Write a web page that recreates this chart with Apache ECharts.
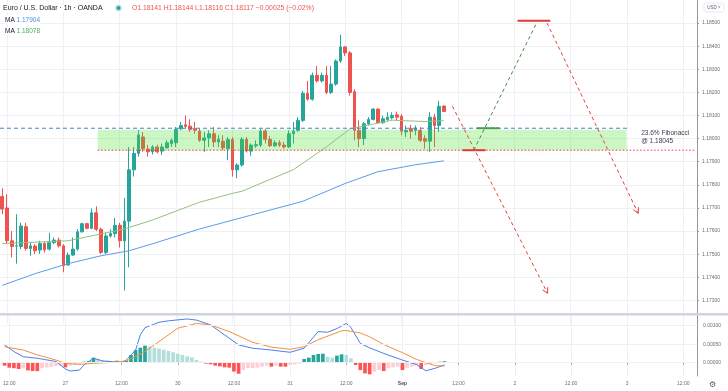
<!DOCTYPE html>
<html><head><meta charset="utf-8">
<script src="https://cdn.jsdelivr.net/npm/echarts@6/dist/echarts.min.js"></script>
<style>html,body{margin:0;padding:0;background:#fff}#c{width:728px;height:391px}</style>
</head><body><div id="c"></div>
<script>
// ---------- data ----------
const days = ['26','27','30','31','Sep','2','3','4'];
const firstHour = 11;      // first slot = 26 Aug 11:00
const slotCount = 148;

const opens  = [1.17750,1.17700,1.17558,1.17535,1.17533,1.17619,1.17525,1.17535,1.17518,1.17546,1.17522,1.17550,1.17561,1.17536,1.17453,1.17496,1.17522,1.17597,1.17632,1.17612,1.17679,1.17608,1.17507,1.17579,1.17589,1.17625,1.17558,1.17643,1.17865,1.17936,1.18007,1.17955,1.17943,1.17964,1.17946,1.17960,1.17979,1.17982,1.18043,1.18060,1.18054,1.18043,1.18033,1.17993,1.18003,1.18021,1.17986,1.17989,1.17957,1.17996,1.17865,1.17886,1.17997,1.17946,1.17969,1.17972,1.18033,1.17997,1.17969,1.17982,1.17972,1.17964,1.18021,1.18036,1.18079,1.18196,1.18171,1.18274,1.18250,1.18274,1.18200,1.18236,1.18336,1.18397,1.18371,1.18203,1.18036,1.18000,1.18064,1.18083,1.18128,1.18069,1.18083,1.18090,1.18103,1.18097,1.18029,1.18043,1.18036,1.18036,1.18000,1.17989,1.18093,1.18057,1.18141];
const closes = [1.17695,1.17558,1.17533,1.17536,1.17622,1.17525,1.17536,1.17515,1.17546,1.17519,1.17550,1.17561,1.17536,1.17450,1.17496,1.17522,1.17597,1.17632,1.17612,1.17679,1.17608,1.17507,1.17579,1.17589,1.17625,1.17558,1.17643,1.17865,1.17936,1.18016,1.17957,1.17943,1.17964,1.17943,1.17964,1.17982,1.17993,1.18040,1.18057,1.18053,1.18040,1.18036,1.17993,1.18003,1.18021,1.17986,1.17997,1.17960,1.17996,1.17865,1.17886,1.17997,1.17947,1.17972,1.17974,1.18033,1.17997,1.17969,1.17982,1.17972,1.17964,1.18021,1.18033,1.18079,1.18196,1.18171,1.18274,1.18250,1.18274,1.18200,1.18236,1.18336,1.18397,1.18371,1.18200,1.18036,1.18000,1.18064,1.18083,1.18128,1.18069,1.18086,1.18093,1.18100,1.18093,1.18032,1.18036,1.18032,1.18046,1.17993,1.17989,1.18093,1.18057,1.18140,1.18117];
const highs  = [1.17785,1.17759,1.17600,1.17673,1.17636,1.17636,1.17550,1.17543,1.17558,1.17555,1.17593,1.17572,1.17572,1.17543,1.17507,1.17572,1.17608,1.17636,1.17636,1.17698,1.17707,1.17615,1.17593,1.17608,1.17657,1.17636,1.17743,1.17964,1.17964,1.18037,1.18029,1.17973,1.17972,1.17974,1.17979,1.17993,1.18000,1.18050,1.18072,1.18100,1.18083,1.18072,1.18043,1.18029,1.18036,1.18050,1.18015,1.18015,1.18007,1.18007,1.17893,1.18007,1.18007,1.17979,1.17993,1.18043,1.18043,1.18012,1.17993,1.17993,1.17986,1.18036,1.18072,1.18093,1.18207,1.18250,1.18286,1.18314,1.18286,1.18314,1.18314,1.18343,1.18450,1.18400,1.18379,1.18214,1.18079,1.18072,1.18093,1.18131,1.18131,1.18100,1.18114,1.18114,1.18117,1.18107,1.18057,1.18060,1.18057,1.18050,1.18015,1.18114,1.18107,1.18164,1.18144];
const lows   = [1.17673,1.17545,1.17486,1.17459,1.17522,1.17515,1.17493,1.17501,1.17501,1.17507,1.17515,1.17543,1.17529,1.17422,1.17450,1.17493,1.17515,1.17593,1.17608,1.17608,1.17600,1.17501,1.17501,1.17572,1.17572,1.17529,1.17343,1.17443,1.17836,1.17922,1.17943,1.17922,1.17931,1.17936,1.17929,1.17957,1.17964,1.17964,1.18036,1.18043,1.18029,1.18021,1.17986,1.17943,1.17964,1.17964,1.17964,1.17950,1.17907,1.17836,1.17829,1.17879,1.17940,1.17926,1.17960,1.17964,1.17979,1.17964,1.17964,1.17964,1.17957,1.17960,1.17979,1.18029,1.18072,1.18164,1.18164,1.18243,1.18243,1.18193,1.18193,1.18229,1.18328,1.18357,1.18186,1.17993,1.17964,1.17972,1.18057,1.18079,1.18064,1.18064,1.18075,1.18083,1.18079,1.18015,1.18007,1.18000,1.18015,1.17986,1.17957,1.17943,1.17964,1.18029,1.18116];

// moving averages read at sample bars: [bar index, price]
const maSlow = [[0,1.17365],[7,1.17416],[14,1.17459],[21,1.17493],[27,1.17515],[32,1.17545],[42,1.17609],[53,1.17669],[64,1.17729],[73,1.17806],[80,1.17857],[88,1.17887],[94,1.17904]];
const maFast = [[0,1.17546],[14,1.17558],[26,1.17609],[32,1.17648],[42,1.17725],[49,1.17763],[51,1.17772],[62,1.17866],[69,1.17964],[74,1.18042],[78,1.18059],[83,1.18080],[90,1.18074],[94,1.18078]];

// MACD pane, in units of 0.00001
const macdHist = [-8,-13.5,-15,-17,-15,-21,-22.5,-23,-15,-12.6,-10.8,-9,-8,-12.6,-8,-6.3,-3.6,2.7,4.5,13.5,10,6.3,5.4,4.5,5.4,2.7,5.4,20.7,34,40.5,46,44,40.5,38,35,31.5,28,24.3,20.7,17,14.4,7.2,2.7,-2.7,-4.5,-8,-10,-12.6,-13.5,-24,-30,-20,-15,-14.5,-13.5,-10.8,-8,-10.8,-8,-10.8,-10.8,-6.3,-4.5,-2.7,10,13.5,20.7,23.4,24.3,16,13.5,19,22.5,20.7,11.7,-6.3,-20,-29,-31.5,-24,-20,-22.5,-15,-12.6,-10.8,-20,-13.5,-10.8,-8,-17,-6.3,-3.6,-1.8,2.7,4];
const macdLine = [[0,48],[2,30],[4,16],[7,12],[11,3],[13,-17],[14,-22.5],[16,-20],[17,-6],[19,12],[21,4.5],[23,2.7],[25,1],[26,7],[28,34],[29,75],[30,94.5],[33,109],[35,113],[39,118],[41,115],[44,102],[47,75],[50,48],[53,39],[57,34],[61,28],[64,39],[67,84],[69,82],[71,92],[73,106],[74,95],[76,52],[78,40],[81,25],[85,7],[88,-5],[90,-22],[92,-15],[94,-6]];
const signalLine = [[0,43],[4,34],[7,21],[11,7],[13,-2],[16,-4.5],[19,-2],[23,1],[26,4.5],[30,30],[33,57],[37,93],[41,106],[44,102],[48,84],[53,55],[57,42],[61,36],[64,43],[67,62],[72,86],[73,87],[76,80],[78,70],[81,49],[85,27],[88,9],[90,0],[92,-8],[94,-9]];
const macdTicks = [0, 50, 100];

// levels and drawings (bar index, price)
const fibLevel = 1.18045, supportLevel = 1.17950, targetLevel = 1.18500, lastPrice = 1.18117;
const zone = [[20.3, 132.9, 1.17950, 1.18038]];
const fibLine = [[-0.5, 1.18045, 133.7, 1.18045]];
const supportLine = [[20.3, 1.17950, 147.5, 1.17950]];
const redPaths = [[95.85, 1.18140, 116.1, 1.17331], [116.0, 1.18500, 135.4, 1.17677]];
const greenPaths = [[100.4, 1.17950, 113.75, 1.18500]];
const redBars = [[98.0, 1.17950, 102.9, 1.17950], [109.7, 1.18510, 116.7, 1.18510]];
const greenBars = [[101.0, 1.18045, 105.9, 1.18045]];

// ---------- build ----------
const categories = [];
for (let k = 0; k < slotCount; k++) {
  const h = firstHour + k;
  categories.push(days[Math.floor(h / 24)] + ' ' + String(h % 24).padStart(2, '0') + ':00');
}
const candles = opens.map((o, i) => [o, closes[i], lows[i], highs[i]]);
const labelSlot = (i) => (firstHour + i) % 12 === 0;
const fmtCat = (v) => { const p = v.split(' '); if (p[1] === '00:00') return p[0] === 'Sep' ? '{b|Sep}' : p[0]; return p[1]; };

function kx(api, k, p) {
  const k0 = Math.floor(k);
  const a = api.coord([k0, p]);
  const b = api.coord([k0 + 1, p]);
  return [a[0] + (k - k0) * (b[0] - a[0]), a[1]];
}
function segSeries(data, color, dash, width, arrow, z) {
  return {
    type: 'custom', xAxisIndex: 0, yAxisIndex: 0, z: z, silent: true, data: data,
    renderItem: (params, api) => {
      const a = kx(api, api.value(0), api.value(1));
      const b = kx(api, api.value(2), api.value(3));
      const ch = [{ type: 'line', shape: { x1: a[0], y1: a[1], x2: b[0], y2: b[1] }, style: { stroke: color, lineWidth: width, lineDash: dash } }];
      if (arrow) {
        const ang = Math.atan2(b[1] - a[1], b[0] - a[0]);
        [-1, 1].forEach(s => {
          const t = ang + Math.PI + s * 0.5;
          ch.push({ type: 'line', shape: { x1: b[0], y1: b[1], x2: b[0] + 6 * Math.cos(t), y2: b[1] + 6 * Math.sin(t) }, style: { stroke: color, lineWidth: 1 } });
        });
      }
      return { type: 'group', children: ch };
    }
  };
}

const FONT = 'Liberation Sans';
const gridLine = { show: true, lineStyle: { color: '#eef0f4', width: 1 } };
const chart = echarts.init(document.getElementById('c'), null, { renderer: 'canvas' });
chart.setOption({
  animation: false,
  backgroundColor: '#ffffff',
  textStyle: { fontFamily: FONT },
  grid: [
    { left: -2, right: 33, top: -3.4, bottom: 67.5 },
    { left: -2, right: 33, top: 316, bottom: 15 }
  ],
  xAxis: [
    { type: 'category', gridIndex: 0, data: categories, boundaryGap: true,
      axisLine: { show: false }, axisTick: { show: false }, axisLabel: { show: false },
      splitLine: Object.assign({ interval: labelSlot, alignWithLabel: true }, gridLine) },
    { type: 'category', gridIndex: 1, data: categories, boundaryGap: true,
      axisLine: { show: true, lineStyle: { color: '#d5d7dc' } },
      axisTick: { show: true, interval: labelSlot, alignWithLabel: true, length: 2, lineStyle: { color: '#9598a1' } },
      axisLabel: { interval: labelSlot, formatter: fmtCat, fontSize: 5, color: '#6a6d78', margin: 5, fontFamily: FONT,
        rich: { b: { fontWeight: 'bold', fontSize: 5, color: '#4a4d58', fontFamily: FONT } } },
      splitLine: Object.assign({ interval: labelSlot, alignWithLabel: true }, gridLine) }
  ],
  yAxis: [
    { type: 'value', gridIndex: 0, position: 'right', offset: 2, min: 1.172, max: 1.186, interval: 0.001, scale: true,
      axisLine: { show: true, lineStyle: { color: '#9598a1' } },
      axisTick: { show: true, length: 2, lineStyle: { color: '#9598a1' } },
      axisLabel: { showMinLabel: false, showMaxLabel: false, formatter: v => v.toFixed(5), fontSize: 5, color: '#6a6d78', margin: 5, fontFamily: FONT },
      splitLine: { show: true, showMinLine: false, showMaxLine: false, lineStyle: { color: '#eef0f4' } } },
    { type: 'value', gridIndex: 1, position: 'right', offset: 2, min: -36, max: 126,
      axisLine: { show: true, lineStyle: { color: '#9598a1' } },
      axisTick: { show: false }, axisLabel: { show: false }, splitLine: { show: false } }
  ],
  series: [
    { type: 'candlestick', xAxisIndex: 0, yAxisIndex: 0, data: candles, barWidth: 3.2, z: 2, silent: true,
      itemStyle: { color: '#26a69a', color0: '#ef5350', borderColor: '#26a69a', borderColor0: '#ef5350', borderWidth: 1 },
      markLine: { symbol: 'none', silent: true, animation: false,
        label: { show: true, position: 'end', distance: 3, formatter: p => p.value.toFixed(5), color: '#fff', fontSize: 5, padding: [2, 3, 2, 3], fontFamily: FONT },
        data: [
          { yAxis: targetLevel, lineStyle: { color: '#72806a', type: [1, 2], width: 1 }, label: { backgroundColor: '#3f8f3c' } },
          { yAxis: lastPrice, lineStyle: { opacity: 0 }, label: { backgroundColor: '#ef5350' } },
          { yAxis: supportLevel, lineStyle: { opacity: 0 }, label: { backgroundColor: '#f23645' } }
        ] } },
    { type: 'custom', xAxisIndex: 0, yAxisIndex: 0, z: 3, silent: true, data: zone,
      renderItem: (params, api) => {
        const a = kx(api, api.value(0), api.value(3));
        const b = kx(api, api.value(1), api.value(2));
        return { type: 'rect', shape: { x: a[0], y: a[1], width: b[0] - a[0], height: b[1] - a[1] }, style: { fill: 'rgba(72,222,38,0.28)' } };
      } },
    { type: 'line', xAxisIndex: 0, yAxisIndex: 0, data: maSlow, showSymbol: false, z: 4, silent: true, lineStyle: { color: '#5e9be8', width: 1 } },
    { type: 'line', xAxisIndex: 0, yAxisIndex: 0, data: maFast, showSymbol: false, z: 4, silent: true, lineStyle: { color: '#93c27a', width: 1 } },
    segSeries(fibLine, '#4f7fd6', [4, 3], 1, false, 5),
    segSeries(supportLine, '#f23645', [1.5, 2], 1, false, 5),
    segSeries(redPaths, '#e8423f', [3.5, 3], 1, true, 6),
    segSeries(greenPaths, '#3f8f3c', [3.5, 3], 1, false, 6),
    segSeries(redBars, '#e53935', null, 2, false, 7),
    segSeries(greenBars, '#43a047', null, 2, false, 7),
    { type: 'custom', xAxisIndex: 0, yAxisIndex: 0, z: 7, silent: true, data: [[133.7, fibLevel]],
      renderItem: (params, api) => {
        const a = kx(api, api.value(0), api.value(1));
        return { type: 'text', x: a[0] + 11, y: a[1] + 1, style: { text: '23.6% Fibonacci\n@ ' + fibLevel.toFixed(5), fill: '#3b3e47', font: '6.5px "' + FONT + '"', lineHeight: 8, textVerticalAlign: 'top' } };
      } },
    { type: 'bar', xAxisIndex: 1, yAxisIndex: 1, data: macdHist, barWidth: '78%', silent: true, z: 2,
      itemStyle: { color: p => {
        const v = macdHist[p.dataIndex], pv = p.dataIndex > 0 ? macdHist[p.dataIndex - 1] : v;
        if (v >= 0) return pv < v ? '#26a69a' : '#b2dfdb';
        return pv < v ? '#ffcdd2' : '#ff5252';
      } },
      markLine: { symbol: 'none', silent: true, animation: false,
        lineStyle: { color: '#eef0f4', type: 'solid', width: 1 },
        label: { show: true, position: 'end', distance: 8, formatter: p => (p.value / 1e5).toFixed(5), color: '#6a6d78', fontSize: 5, fontFamily: FONT },
        data: macdTicks.map(v => ({ yAxis: v })) } },
    { type: 'line', xAxisIndex: 1, yAxisIndex: 1, data: macdLine, showSymbol: false, z: 3, silent: true, lineStyle: { color: '#4a7ff0', width: 1 } },
    { type: 'line', xAxisIndex: 1, yAxisIndex: 1, data: signalLine, showSymbol: false, z: 3, silent: true, lineStyle: { color: '#f3913f', width: 1 } }
  ],
  graphic: [
    { type: 'rect', z: 50, shape: { x: 0, y: 313, width: 728, height: 2.5 }, style: { fill: '#d1d4dc' } },
    { type: 'text', z: 60, x: 3, y: 8, style: { text: 'Euro / U.S. Dollar · 1h · OANDA', fill: '#131722', font: '7px "' + FONT + '"', textVerticalAlign: 'middle', backgroundColor: '#fff' } },
    { type: 'circle', z: 60, shape: { cx: 118.5, cy: 8, r: 3.6 }, style: { fill: 'rgba(38,166,154,0.22)' } },
    { type: 'circle', z: 61, shape: { cx: 118.5, cy: 8, r: 2 }, style: { fill: '#26a69a' } },
    { type: 'text', z: 60, x: 132, y: 8, style: { text: 'O1.18141 H1.18144 L1.18116 C1.18117 \u22120.00025 (\u22120.02%)', fill: '#ef5350', font: '6.8px "' + FONT + '"', textVerticalAlign: 'middle' } },
    { type: 'text', z: 60, x: 4, y: 20, style: { text: '{g|MA} {v|1.17904}', font: '6.5px "' + FONT + '"', textVerticalAlign: 'middle', backgroundColor: '#fff', padding: [1, 1],
      rich: { g: { fill: '#131722', font: '6.5px "' + FONT + '"' }, v: { fill: '#4a8fe6', font: '6.5px "' + FONT + '"' } } } },
    { type: 'text', z: 60, x: 4, y: 31, style: { text: '{g|MA} {v|1.18078}', font: '6.5px "' + FONT + '"', textVerticalAlign: 'middle', backgroundColor: '#fff', padding: [1, 1],
      rich: { g: { fill: '#131722', font: '6.5px "' + FONT + '"' }, v: { fill: '#4caf50', font: '6.5px "' + FONT + '"' } } } },
    { type: 'rect', z: 60, shape: { x: 704, y: 3, width: 20, height: 9, r: 2 }, style: { fill: '#fff', stroke: '#e0e3eb', lineWidth: 0.8 } },
    { type: 'text', z: 61, x: 714, y: 7.5, style: { text: 'USD \u02c5', fill: '#5d606b', font: '4.5px "' + FONT + '"', textAlign: 'center', textVerticalAlign: 'middle' } },
    { type: 'text', z: 60, x: 712.5, y: 384.5, style: { text: '\u2699', fill: '#555a66', font: '8px "DejaVu Sans"', textAlign: 'center', textVerticalAlign: 'middle' } }
  ]
});
</script></body></html>
